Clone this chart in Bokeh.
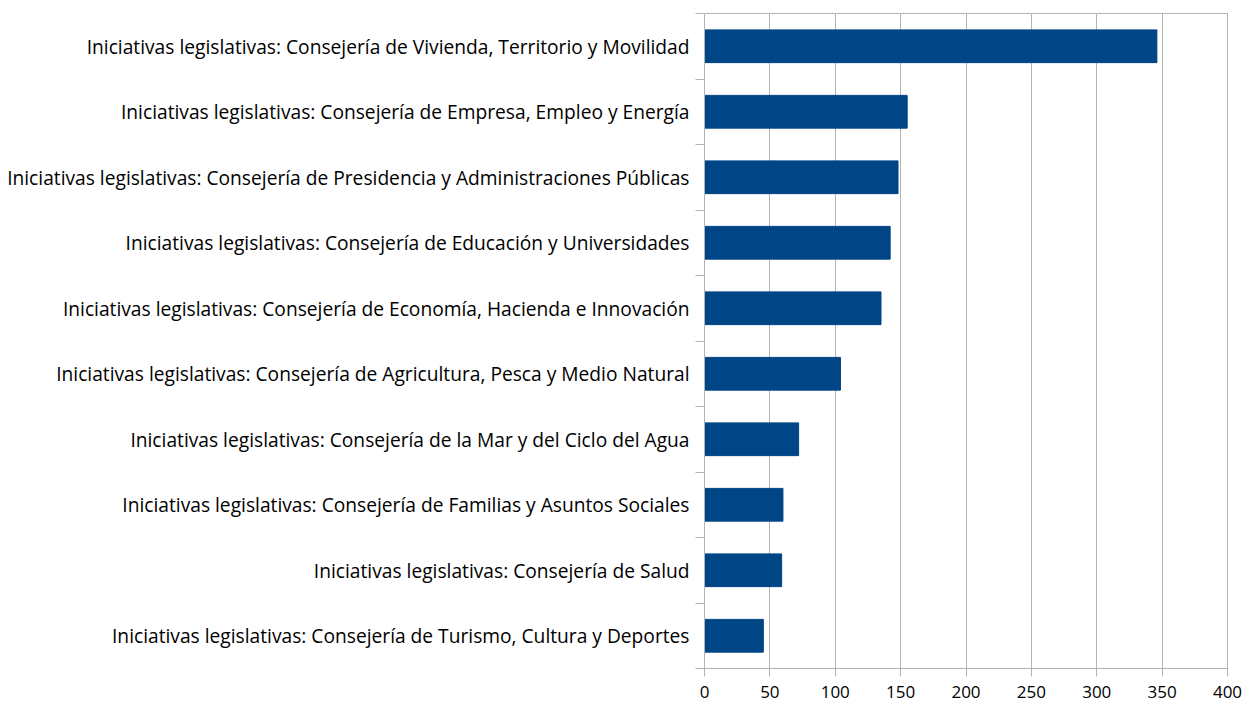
from bokeh.plotting import figure
from bokeh.models import Range1d, FixedTicker, ColumnDataSource
from bokeh.embed import file_html
from bokeh.resources import INLINE

categories = [
    "Iniciativas legislativas: Consejería de Vivienda, Territorio y Movilidad",
    "Iniciativas legislativas: Consejería de Empresa, Empleo y Energía",
    "Iniciativas legislativas: Consejería de Presidencia y Administraciones Públicas",
    "Iniciativas legislativas: Consejería de Educación y Universidades",
    "Iniciativas legislativas: Consejería de Economía, Hacienda e Innovación",
    "Iniciativas legislativas: Consejería de Agricultura, Pesca y Medio Natural",
    "Iniciativas legislativas: Consejería de la Mar y del Ciclo del Agua",
    "Iniciativas legislativas: Consejería de Familias y Asuntos Sociales",
    "Iniciativas legislativas: Consejería de Salud",
    "Iniciativas legislativas: Consejería de Turismo, Cultura y Deportes",
]
values = [346, 155, 148, 142, 135, 104, 72, 60, 59, 45]
x_ticks = [0, 50, 100, 150, 200, 250, 300, 350, 400]

n = len(categories)
ypos = [i + 0.5 for i in range(n)]
src = ColumnDataSource(dict(y=ypos, v=values, cat=categories))

FONT = "Open Sans"
GRID = "#b3b3b3"
BAR = "#004586"

p = figure(width=1246, height=704, output_backend="svg", toolbar_location=None,
           x_range=Range1d(0, 400), y_range=Range1d(n, 0),
           frame_width=523, frame_height=655,
           min_border_left=704, min_border_right=19, min_border_top=13, min_border_bottom=36)
p.background_fill_color = "white"
p.border_fill_color = "white"
p.outline_line_color = GRID

p.hbar(y="y", right="v", left=0, height=0.5, source=src,
       fill_color=BAR, line_color=BAR, line_width=1)

# x axis
p.xaxis.ticker = FixedTicker(ticks=x_ticks)
p.xaxis.axis_line_color = GRID
p.xaxis.major_tick_line_color = GRID
p.xaxis.major_tick_in = 0
p.xaxis.major_tick_out = 8
p.xaxis.minor_tick_line_color = None
p.xaxis.major_label_text_font = FONT
p.xaxis.major_label_text_font_size = "17px"
p.xaxis.major_label_text_color = "black"
p.xaxis.major_label_standoff = 9

# y axis: labels at category centres, ticks at boundaries
p.yaxis.ticker = FixedTicker(ticks=ypos, minor_ticks=list(range(n + 1)))
p.yaxis.major_label_overrides = {y: c for y, c in zip(ypos, categories)}
p.yaxis.axis_line_color = GRID
p.yaxis.major_tick_line_color = None
p.yaxis.major_tick_in = 0
p.yaxis.major_tick_out = 9
p.yaxis.minor_tick_line_color = GRID
p.yaxis.minor_tick_in = 0
p.yaxis.minor_tick_out = 9
p.yaxis.major_label_text_font = FONT
p.yaxis.major_label_text_font_size = "19.2px"
p.yaxis.major_label_text_color = "black"
p.yaxis.major_label_standoff = 6

p.xgrid.ticker = FixedTicker(ticks=x_ticks)
p.xgrid.grid_line_color = GRID
p.ygrid.grid_line_color = None

open("out.html", "w").write(file_html(p, INLINE))
